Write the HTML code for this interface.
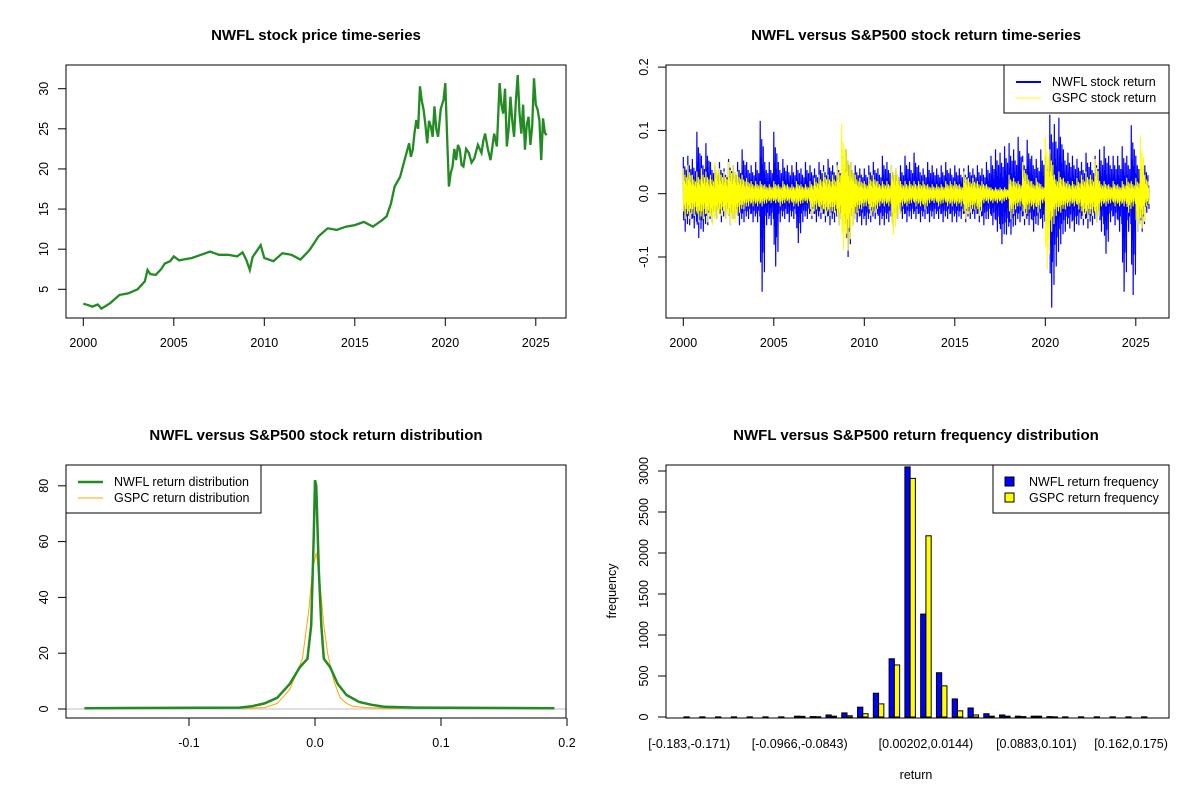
<!DOCTYPE html>
<html><head><meta charset="utf-8"><style>
body{margin:0;background:#fff}
svg{display:block;font-family:"Liberation Sans",Arial,sans-serif}
.t{font-size:15px;font-weight:bold;text-anchor:middle}
.l{font-size:12.5px}
</style></head><body>
<svg id="s" width="1200" height="800" viewBox="0 0 1200 800" xmlns="http://www.w3.org/2000/svg"></svg>
<script>
const priceYears=[2000,2000.3,2000.5,2000.8,2001,2001.3,2001.5,2002,2002.5,2003,2003.4,2003.55,2003.7,2004,2004.3,2004.5,2004.8,2005,2005.3,2005.5,2006,2006.5,2007,2007.5,2008,2008.5,2008.8,2009,2009.2,2009.35,2009.5,2009.8,2010,2010.5,2011,2011.5,2012,2012.5,2013,2013.5,2014,2014.5,2015,2015.5,2016,2016.5,2016.76,2017,2017.2,2017.5,2017.75,2018,2018.1,2018.2,2018.3,2018.4,2018.5,2018.6,2018.7,2018.8,2018.9,2019,2019.1,2019.2,2019.3,2019.4,2019.5,2019.6,2019.75,2019.9,2020,2020.1,2020.2,2020.3,2020.4,2020.5,2020.6,2020.7,2020.8,2020.9,2021,2021.15,2021.3,2021.45,2021.6,2021.8,2022,2022.1,2022.2,2022.35,2022.5,2022.7,2022.85,2023,2023.1,2023.2,2023.3,2023.4,2023.5,2023.6,2023.7,2023.8,2023.9,2024,2024.1,2024.2,2024.3,2024.4,2024.5,2024.6,2024.7,2024.8,2024.9,2025,2025.1,2025.2,2025.3,2025.4,2025.5,2025.6];
const prices=[3.2,3.0,2.85,3.1,2.6,3.0,3.3,4.3,4.5,5.0,6.0,7.4,6.9,6.8,7.5,8.2,8.5,9.1,8.6,8.7,8.9,9.3,9.7,9.3,9.3,9.1,9.6,8.7,7.4,9.0,9.5,10.5,8.9,8.5,9.5,9.3,8.7,9.9,11.6,12.6,12.4,12.8,13.0,13.4,12.8,13.6,14.1,15.7,17.8,19.0,21.1,23.2,21.5,22.4,24.5,26.1,25.0,30.3,28.5,27.4,25.5,23.2,26.0,25.3,24.0,27.8,25.0,24.0,27.5,28.6,30.7,24.0,17.8,19.5,20.3,22.5,21.1,23.0,22.4,20.5,20.3,22.5,22.0,20.8,21.3,23.0,22.0,23.5,24.4,22.5,21.1,24.4,22.8,30.7,28.0,26.9,30.0,22.8,25.0,29.0,26.0,24.0,28.5,31.7,27.0,24.4,28.0,22.4,25.5,26.5,23.0,25.3,31.3,28.0,27.4,26.0,21.1,26.3,24.5,24.2];
const nwflHi=[.058,.06,.055,.098,.06,.08,.05,.045,.05,.04,.055,.045,.05,.07,.05,.045,.05,.115,.05,.05,.098,.05,.055,.045,.045,.05,.04,.05,.045,.04,.05,.045,.055,.045,.05,.06,.07,.05,.045,.04,.04,.045,.05,.04,.06,.05,.045,.04,.045,.06,.05,.065,.045,.04,.05,.045,.04,.045,.05,.04,.045,.04,.04,.045,.04,.045,.04,.05,.06,.07,.065,.075,.08,.07,.09,.06,.085,.06,.055,.07,.06,.125,.11,.12,.07,.065,.06,.055,.05,.065,.05,.06,.07,.075,.06,.06,.06,.075,.06,.108,.06,.04,.045];
const nwflLo=[-.06,-.05,-.055,-.07,-.06,-.05,-.045,-.04,-.045,-.04,-.05,-.04,-.05,-.045,-.04,-.045,-.045,-.155,-.05,-.05,-.115,-.045,-.04,-.045,-.04,-.078,-.045,-.04,-.04,-.045,-.04,-.045,-.05,-.045,-.05,-.06,-.1,-.05,-.045,-.05,-.05,-.045,-.04,-.05,-.05,-.045,-.05,-.04,-.04,-.045,-.04,-.04,-.045,-.04,-.045,-.04,-.04,-.045,-.04,-.045,-.045,-.04,-.045,-.04,-.04,-.045,-.05,-.04,-.05,-.06,-.08,-.065,-.065,-.05,-.045,-.05,-.05,-.06,-.05,-.055,-.06,-.18,-.115,-.08,-.06,-.055,-.06,-.05,-.05,-.055,-.05,-.045,-.06,-.095,-.045,-.05,-.06,-.155,-.06,-.16,-.06,-.06,-.03];
const gspcHi=[.04,.045,.03,.035,.04,.035,.03,.05,.04,.035,.05,.045,.035,.03,.025,.02,.02,.02,.015,.015,.02,.015,.02,.015,.015,.02,.015,.015,.02,.025,.03,.035,.03,.03,.045,.11,.07,.05,.03,.025,.02,.03,.03,.02,.02,.02,.045,.04,.02,.02,.02,.02,.02,.02,.015,.015,.015,.015,.02,.02,.02,.015,.035,.025,.025,.02,.02,.015,.01,.01,.01,.01,.03,.025,.02,.05,.03,.02,.025,.015,.09,.07,.03,.035,.025,.02,.02,.025,.03,.035,.03,.055,.02,.02,.015,.02,.015,.02,.025,.02,.025,.09,.03];
const gspcLo=[-.04,-.04,-.035,-.045,-.04,-.045,-.05,-.04,-.035,-.04,-.05,-.045,-.03,-.025,-.02,-.02,-.02,-.02,-.015,-.015,-.015,-.02,-.015,-.015,-.02,-.02,-.015,-.015,-.035,-.025,-.03,-.035,-.035,-.03,-.05,-.09,-.09,-.05,-.03,-.025,-.02,-.035,-.03,-.02,-.02,-.02,-.065,-.04,-.02,-.02,-.015,-.02,-.02,-.025,-.015,-.015,-.02,-.015,-.02,-.02,-.02,-.02,-.04,-.03,-.025,-.035,-.015,-.015,-.015,-.015,-.015,-.01,-.04,-.025,-.02,-.04,-.025,-.025,-.03,-.015,-.12,-.06,-.035,-.03,-.025,-.02,-.02,-.025,-.04,-.04,-.035,-.045,-.02,-.02,-.015,-.02,-.02,-.02,-.03,-.02,-.06,-.055,-.02];
const densX=[-0.183,-0.06,-0.05,-0.04,-0.03,-0.02,-0.012,-0.006,-0.003,-0.001,0,0.001,0.003,0.005,0.007,0.012,0.018,0.025,0.035,0.045,0.055,0.08,0.19];
const nwflDens=[0.3,0.5,1,2,4,9,15,18,30,62,82,80,50,30,18,15,9,5,2.5,1.5,0.8,0.5,0.3];
const gspcDensX=[-0.06,-0.04,-0.03,-0.02,-0.01,-0.005,-0.002,0.001,0.004,0.007,0.01,0.015,0.02,0.025,0.03,0.04,0.06,0.07];
const gspcDens=[0.2,0.5,2,7,18,35,50,56,45,30,20,10,4,2,1,0.5,0.2,0.2];
const histNwfl=[2,2,2,2,2,2,2,10,5,25,50,120,290,710,3050,1255,540,220,110,40,25,10,10,5,2,2,2,2,2,2];
const histGspc=[0,0,0,0,0,0,0,8,3,10,15,40,160,635,2910,2210,380,75,25,10,10,5,10,2,0,0,0,0,0,0];
const histLabels=["[-0.183,-0.171)","[-0.0966,-0.0843)","[0.00202,0.0144)","[0.0883,0.101)","[0.162,0.175)"];
const histLabelIdx=[0,7,15,22,28];

const S=document.getElementById('s');const NS='http://www.w3.org/2000/svg';
function mk(tag,a,txt){const e=document.createElementNS(NS,tag);for(const k in a)e.setAttribute(k,a[k]);if(txt!==undefined)e.textContent=txt;S.appendChild(e);return e;}
function box(x1,y1,x2,y2,name){const e=mk('rect',{x:x1,y:y1,width:x2-x1,height:y2-y1,fill:'none',stroke:'#000','stroke-width':1});

}
function xtick(x,y,lab,name){const e=mk('line',{x1:x,x2:x,y1:y,y2:y+8,stroke:'#000'});


const t=mk('text',{x:x,y:y+29,'text-anchor':'middle',class:'l'},lab);

}
function ytick(x,y,lab,name){const e=mk('line',{x1:x,x2:x-8,y1:y,y2:y,stroke:'#000'});


const t=mk('text',{x:x-18,y:y,'text-anchor':'middle',class:'l',transform:`rotate(-90 ${x-18} ${y})`},lab);

}
function title(x,y,txt,name){const t=mk('text',{x:x,y:y,class:'t'},txt);

}
function poly(pts,col,w,name,clip){const e=mk('polyline',{points:pts.map(p=>p[0].toFixed(2)+','+p[1].toFixed(1)).join(' '),fill:'none',stroke:col,'stroke-width':w,'stroke-linejoin':'miter'});
if(clip)e.setAttribute('clip-path',clip);

}
function legend(x1,y1,x2,y2,items,name){const g=mk('rect',{x:x1,y:y1,width:x2-x1,height:y2-y1,fill:'#fff',stroke:'#000'});


items.forEach((it,i)=>{const y=y1+17+i*16;
if(it.sq){const r=mk('rect',{x:x1+12,y:y-5,width:9,height:9,fill:it.c,stroke:'#000'});

}
else{const l=mk('line',{x1:x1+12,x2:x1+37,y1:y,y2:y,stroke:it.c,'stroke-width':it.w});

}
const t=mk('text',{x:x1+(it.sq?36:48),y:y+4,class:'l'},it.t);

});}

const defs=mk('defs',{});
[['c1',66,65,500,253],['c2',666,65,503,253],['c4',666,465,503,253]].forEach(c=>{const cp=document.createElementNS(NS,'clipPath');cp.setAttribute('id',c[0]);const r=document.createElementNS(NS,'rect');r.setAttribute('x',c[1]);r.setAttribute('y',c[2]);r.setAttribute('width',c[3]);r.setAttribute('height',c[4]);cp.appendChild(r);defs.appendChild(cp);});

// Panel 1
const sx1=y=>83.3+(y-2000)*18.1, sy1=v=>289.3-(v-5)*8.024;
title(316,40,'NWFL stock price time-series','price-title');
poly(priceYears.map((y,i)=>[sx1(y),sy1(prices[i])]),'#228B22',2.3,'price-line','url(#c1)');
box(66,65,566,318,'price-plot-area');
[2000,2005,2010,2015,2020,2025].forEach(y=>xtick(sx1(y),318,String(y),'price-x'));
[5,10,15,20,25,30].forEach(v=>ytick(66,sy1(v),String(v),'price-y'));

// Panel 2
const sx2=y=>683.3+(y-2000)*18.1, sy2=v=>193.7-v*633;
title(916,40,'NWFL versus S&P500 stock return time-series','return-title');
const subPattern=[[1,0],[0,0.7],[0.5,0],[0,0.45],[0.75,0],[0,1],[0.4,0],[0,0.6],[0.65,0],[0,0.35],[0.3,0],[0,0.8]];
function zig(hi,lo){const p=[];const n=subPattern.length;hi.forEach((h,i)=>{const y=2000+i*0.25;subPattern.forEach((s,k)=>{const v=s[0]?h*s[0]:lo[i]*s[1];p.push([sx2(y+k*0.25/n),sy2(v)]);});});return p;}
poly(zig(nwflHi,nwflLo),'#0000ff',1.2,'nwfl-return-line','url(#c2)');
poly(zig(gspcHi,gspcLo),'#ffff00',1.1,'gspc-return-line','url(#c2)');
box(666,65,1169,318,'return-plot-area');
[2000,2005,2010,2015,2020,2025].forEach(y=>xtick(sx2(y),318,String(y),'return-x'));
[-0.1,0,0.1,0.2].forEach(v=>ytick(666,sy2(v),v===0?'0.0':String(v),'return-y'));
legend(1004,65,1169,113,[{c:'#0000ff',w:2,t:'NWFL stock return'},{c:'#ffff00',w:1,t:'GSPC stock return'}],'return-legend');

// Panel 3
const sx3=v=>315+v*1260, sy3=v=>709-v*2.79;
title(316,440,'NWFL versus S&P500 stock return distribution','density-title');
const zl=mk('line',{x1:66,x2:566,y1:709,y2:709,stroke:'#bebebe'});


poly(gspcDensX.map((x,i)=>[sx3(x),sy3(gspcDens[i])]),'#FFA500',1,'gspc-density-line');
poly(densX.map((x,i)=>[sx3(x),sy3(nwflDens[i])]),'#228B22',2.5,'nwfl-density-line');
box(66,465,566,718,'density-plot-area');
[-0.1,0,0.1,0.2].forEach(v=>xtick(sx3(v),718,v===0?'0.0':String(v),'density-x'));
[0,20,40,60,80].forEach(v=>ytick(66,sy3(v),String(v),'density-y'));
legend(66,465,261,513,[{c:'#228B22',w:2.5,t:'NWFL return distribution'},{c:'#FFA500',w:1,t:'GSPC return distribution'}],'density-legend');

// Panel 4
const u=5.26, hx=i=>678.7+i*3*u, hy=v=>717-v*0.082;
title(916,440,'NWFL versus S&P500 return frequency distribution','histogram-title');
histNwfl.forEach((v,i)=>{const r=mk('rect',{x:hx(i)+u,y:hy(v),width:u,height:v*0.082,fill:'#0000ff',stroke:'#000','clip-path':'url(#c4)'});

});
histGspc.forEach((v,i)=>{const r=mk('rect',{x:hx(i)+2*u,y:hy(v),width:u,height:v*0.082,fill:'#ffff00',stroke:'#000','clip-path':'url(#c4)'});

});
box(666,465,1169,718,'histogram-plot-area');
histLabelIdx.forEach((k,j)=>{const t=mk('text',{x:hx(k)+2*u,y:748,'text-anchor':'middle',class:'l'},histLabels[j]);

});
[0,500,1000,1500,2000,2500,3000].forEach(v=>ytick(666,hy(v),String(v),'histogram-y'));
const xt=mk('text',{x:916,y:779,'text-anchor':'middle',class:'l'},'return');


const yt=mk('text',{x:616,y:591,'text-anchor':'middle',class:'l',transform:'rotate(-90 616 591)'},'frequency');


legend(993,465,1169,513,[{c:'#0000ff',sq:1,t:'NWFL return frequency'},{c:'#ffff00',sq:1,t:'GSPC return frequency'}],'histogram-legend');
</script>
</body></html>
